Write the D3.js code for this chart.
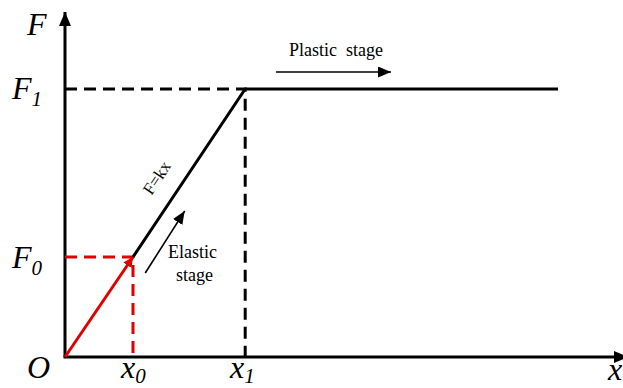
<!DOCTYPE html>
<html>
<head>
<meta charset="utf-8">
<script src="https://cdn.jsdelivr.net/npm/d3@7"></script>
<style>
  body { margin: 0; background: #fff; }
  text { font-family: "Liberation Serif", "Times New Roman", serif; }
</style>
</head>
<body>
<svg id="chart"></svg>
<script>
// key points of the force-displacement curve (x in units of x0, F in units of F0)
const pointNames = ["O", "0", "1", "end"];
const dispValues = [0, 1, 2.65, 7.25];
const forceValues = [0, 1, 2.68, 2.68];
const xTickLabels = ["0", "1"];     // subscripts for x0, x1
const yTickLabels = ["0", "1"];     // subscripts for F0, F1

const width = 623, height = 388;

const x = d3.scaleLinear().domain([0, 1]).range([65, 133]);
const y = d3.scaleLinear().domain([0, 1]).range([357, 257]);

const svg = d3.select("#chart")
    .attr("width", width)
    .attr("height", height);

const defs = svg.append("defs");
const marker = (id, color, w, l) => {
    defs.append("marker")
        .attr("id", id)
        .attr("markerUnits", "userSpaceOnUse")
        .attr("viewBox", [0, -w / 2, l, w])
        .attr("refX", l).attr("refY", 0)
        .attr("markerWidth", l).attr("markerHeight", w)
        .attr("orient", "auto")
        .append("path")
        .attr("d", `M0,${-w / 2}L${l},0L0,${w / 2}Z`)
        .attr("fill", color);
};
marker("axisHead", "#000", 12, 14);
marker("redHead", "#e00000", 10, 10);
marker("smallHead", "#000", 11, 13);

const pts = dispValues.map((d, i) => ({ x: d, f: forceValues[i], name: pointNames[i] }));

// axes
svg.append("line")
    .attr("x1", x(0)).attr("y1", y(0))
    .attr("x2", x(0)).attr("y2", 12)
    .attr("stroke", "#000").attr("stroke-width", 3)
    .attr("marker-end", "url(#axisHead)");
svg.append("line")
    .attr("x1", x(0) - 1.5).attr("y1", y(0))
    .attr("x2", 628).attr("y2", y(0))
    .attr("stroke", "#000").attr("stroke-width", 3)
    .attr("marker-end", "url(#axisHead)");

// dashed guides
const guides = [
    { p: pts[1], color: "#e00000" },
    { p: pts[2], color: "#000" }
];
guides.forEach(g => {
    svg.append("path")
        .attr("d", `M${x(0)},${y(g.p.f)}H${x(g.p.x)}V${y(0)}`)
        .attr("fill", "none")
        .attr("stroke", g.color)
        .attr("stroke-width", 3)
        .attr("stroke-dasharray", "12,7");
});

// elastic part (red)
svg.append("line")
    .attr("x1", x(pts[0].x)).attr("y1", y(pts[0].f))
    .attr("x2", x(pts[1].x)).attr("y2", y(pts[1].f))
    .attr("stroke", "#e00000").attr("stroke-width", 3)
    .attr("marker-end", "url(#redHead)");

// F = kx and plastic part
const line = d3.line().x(d => x(d.x)).y(d => y(d.f));
svg.append("path")
    .datum(pts.slice(1))
    .attr("d", line)
    .attr("fill", "none")
    .attr("stroke", "#000")
    .attr("stroke-width", 3);

// axis labels
const italicLabel = (px, py, main, sub, size, subDy) => {
    const t = svg.append("text")
        .attr("x", px).attr("y", py)
        .attr("font-style", "italic")
        .attr("font-size", size);
    t.append("tspan").text(main);
    if (sub !== null) {
        t.append("tspan")
            .attr("font-size", 21)
            .attr("dy", subDy)
            .text(sub);
    }
    return t;
};
italicLabel(27, 35, "F", null, 32);
italicLabel(12, 99, "F", yTickLabels[1], 32, 7);
italicLabel(12, 268, "F", yTickLabels[0], 32, 7);
italicLabel(27, 378, "O", null, 32);
italicLabel(121, 378, "x", xTickLabels[0], 32, 5);
italicLabel(230, 378, "x", xTickLabels[1], 32, 5);
italicLabel(608, 380, "x", null, 32);

// F=kx along the line
const ang = Math.atan2(y(pts[2].f) - y(pts[1].f), x(pts[2].x) - x(pts[1].x)) * 180 / Math.PI;
svg.append("text")
    .attr("transform", `translate(${x(1.42)},${y(1.76)}) rotate(${ang})`)
    .attr("text-anchor", "middle")
    .attr("font-size", 17)
    .text("F=kx");

// elastic stage annotation
svg.append("line")
    .attr("x1", x(1.18)).attr("y1", y(0.84))
    .attr("x2", x(1.76)).attr("y2", y(1.46))
    .attr("stroke", "#000").attr("stroke-width", 1.6)
    .attr("marker-end", "url(#smallHead)");
svg.append("text")
    .attr("x", 168).attr("y", 258)
    .attr("font-size", 18)
    .text("Elastic");
svg.append("text")
    .attr("x", 176).attr("y", 281)
    .attr("font-size", 18)
    .text("stage");

// plastic stage annotation
svg.append("line")
    .attr("x1", 276).attr("y1", 72)
    .attr("x2", 391).attr("y2", 72)
    .attr("stroke", "#000").attr("stroke-width", 1.6)
    .attr("marker-end", "url(#smallHead)");
svg.append("text")
    .attr("x", 289).attr("y", 56)
    .attr("font-size", 18)
    .attr("xml:space", "preserve")
    .text("Plastic  stage");
</script>
</body>
</html>
